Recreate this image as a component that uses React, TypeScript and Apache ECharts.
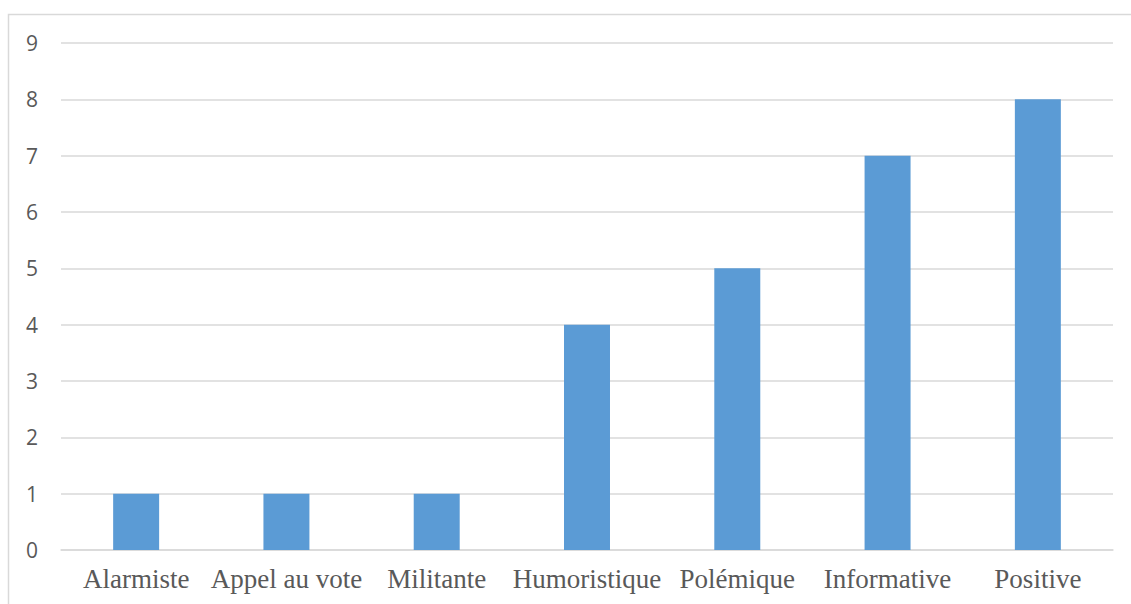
import React, { useEffect, useRef } from "react";
import * as echarts from "echarts";

const categories = [
  "Alarmiste",
  "Appel au vote",
  "Militante",
  "Humoristique",
  "Polémique",
  "Informative",
  "Positive",
];
const counts = [1, 1, 1, 4, 5, 7, 8];

export default function App() {
  const ref = useRef<HTMLDivElement>(null);

  useEffect(() => {
    if (!ref.current) return;
    const chart = echarts.init(ref.current, undefined, { renderer: "svg" });
    chart.setOption({
      animation: false,
      backgroundColor: "#ffffff",
      graphic: [
        {
          type: "rect",
          shape: { x: 8.5, y: 14.5, width: 1200, height: 700 },
          style: { fill: "none", stroke: "#D9D9D9", lineWidth: 1.5 },
          silent: true,
        },
      ],
      grid: { left: 61, right: 18, top: 43, bottom: 54 },
      xAxis: {
        type: "category",
        data: categories,
        axisLine: { show: true, lineStyle: { color: "#D9D9D9", width: 1.5 } },
        axisTick: { show: false },
        axisLabel: {
          interval: 0,
          margin: 15,
          color: "#595959",
          fontFamily: "Liberation Serif, Times New Roman, serif",
          fontSize: 27,
        },
      },
      yAxis: {
        type: "value",
        min: 0,
        max: 9,
        interval: 1,
        axisLine: { show: false },
        axisTick: { show: false },
        splitLine: { lineStyle: { color: "#D9D9D9", width: 1.5 } },
        axisLabel: {
          margin: 23,
          color: "#595959",
          fontFamily: "Open Sans, Noto Sans, sans-serif",
          fontSize: 21,
        },
      },
      series: [
        {
          type: "bar",
          data: counts,
          barWidth: "30.6%",
          itemStyle: { color: "#5B9BD5" },
        },
      ],
    });
    return () => chart.dispose();
  }, []);

  return (
    <div
      ref={ref}
      style={{ position: "fixed", left: 0, top: 0, width: 1131, height: 604 }}
    />
  );
}
